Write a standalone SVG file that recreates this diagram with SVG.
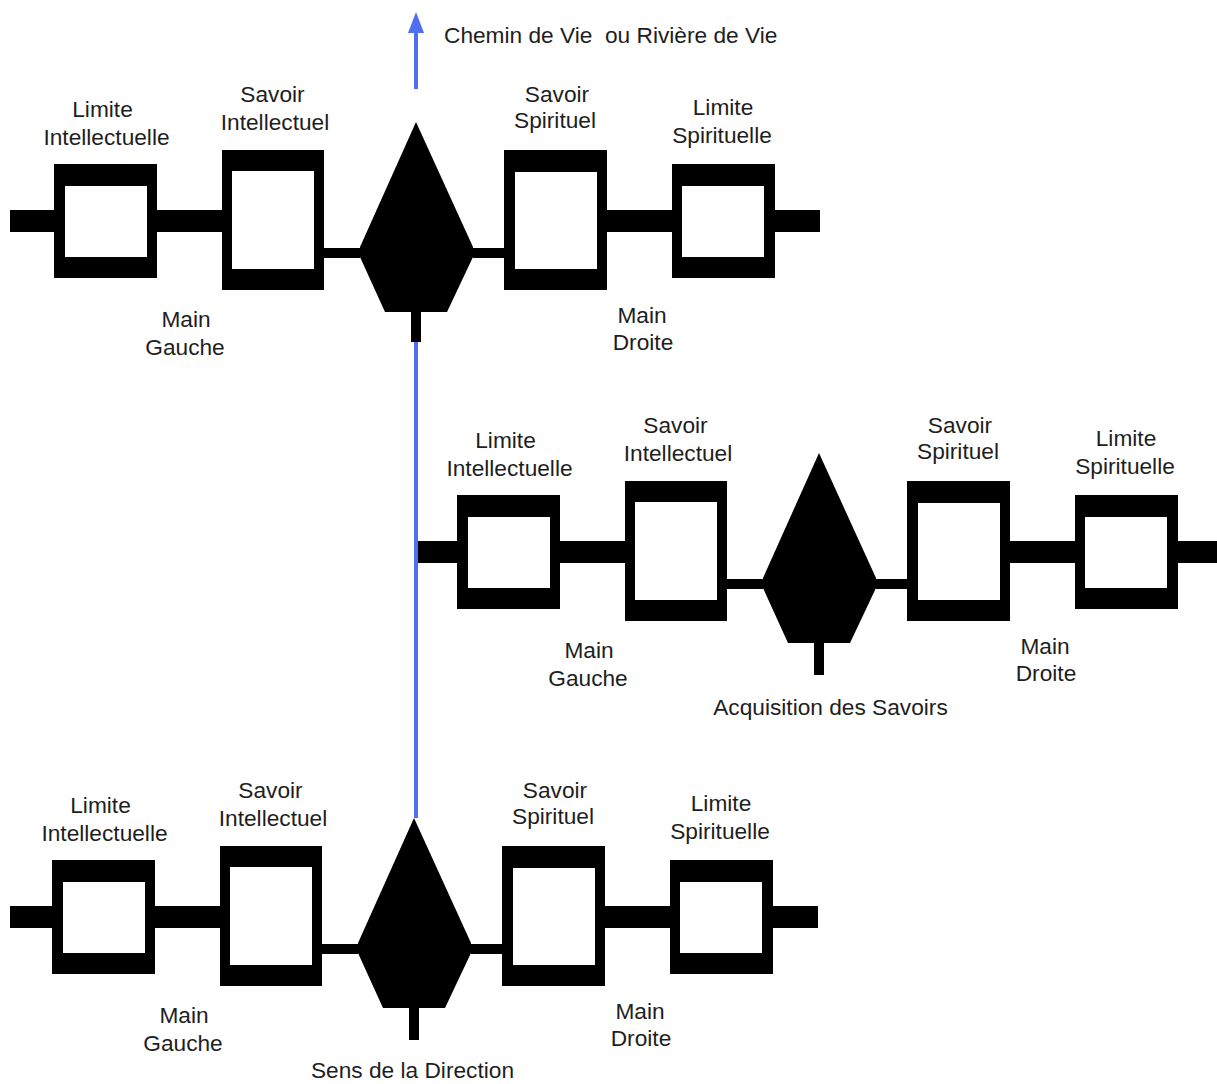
<svg xmlns="http://www.w3.org/2000/svg" width="1217" height="1084" viewBox="0 0 1217 1084">
<style>
.t{font-family:"Liberation Sans",Arial,sans-serif;font-size:22.7px;fill:#1e1e1e;text-anchor:middle}
.ts{font-family:"Liberation Sans",Arial,sans-serif;font-size:22.7px;fill:#1e1e1e}
.k{fill:#000}
.w{fill:#fff}
.flow{stroke:#4f6ef0;stroke-width:4;fill:none}
</style>
<defs>
<polygon id="dia" points="416,122 473,247 473,257 447,312 385,312 360,257 360,247"/>
</defs>
<rect width="1217" height="1084" fill="#fff"/>

<!-- connectors -->
<g id="connectors">
  <line class="flow" x1="416" y1="342" x2="416" y2="818"/>
  <line class="flow" x1="416" y1="89" x2="416" y2="28"/>
  <polygon points="416,12 424,33 408,33" fill="#4f6ef0"/>
  <g id="bars-top" class="k">
    <rect x="10" y="210" width="44" height="22"/>
    <rect x="157" y="210" width="65" height="22"/>
    <rect x="324" y="248" width="36" height="10"/>
    <rect x="473" y="248" width="31" height="10"/>
    <rect x="607" y="210" width="65" height="22"/>
    <rect x="775" y="210" width="45" height="22"/>
  </g>
  <g id="bars-mid" class="k" transform="translate(403,331)">
    <rect x="15" y="210" width="39" height="22"/>
    <rect x="157" y="210" width="65" height="22"/>
    <rect x="324" y="248" width="36" height="10"/>
    <rect x="473" y="248" width="31" height="10"/>
    <rect x="607" y="210" width="65" height="22"/>
    <rect x="775" y="210" width="45" height="22"/>
  </g>
  <g id="bars-bot" class="k" transform="translate(-2,696)">
    <rect x="12" y="210" width="42" height="22"/>
    <rect x="157" y="210" width="65" height="22"/>
    <rect x="324" y="248" width="36" height="10"/>
    <rect x="473" y="248" width="31" height="10"/>
    <rect x="607" y="210" width="65" height="22"/>
    <rect x="775" y="210" width="45" height="22"/>
  </g>
</g>

<text class="ts" x="444" y="43" xml:space="preserve">Chemin de Vie  ou Rivière de Vie</text>

<!-- top row -->
<g id="row-top">
  <g id="top-limite-intellectuelle">
    <rect class="k" x="54" y="164" width="103" height="114"/>
    <rect class="w" x="65" y="186" width="82" height="71"/>
    <text class="t" x="102.5" y="117">Limite</text>
    <text class="t" x="106.5" y="145">Intellectuelle</text>
  </g>
  <g id="top-savoir-intellectuel">
    <rect class="k" x="222" y="150" width="102" height="140"/>
    <rect class="w" x="232" y="171" width="82" height="98"/>
    <text class="t" x="272.5" y="102">Savoir</text>
    <text class="t" x="275" y="130">Intellectuel</text>
  </g>
  <g id="top-main-gauche">
    <text class="t" x="186" y="327">Main</text>
    <text class="t" x="185" y="355">Gauche</text>
  </g>
  <g id="top-centre">
    <use href="#dia" class="k"/>
    <rect class="k" x="411" y="310" width="10" height="32"/>
  </g>
  <g id="top-savoir-spirituel">
    <rect class="k" x="504" y="150" width="103" height="140"/>
    <rect class="w" x="515" y="172" width="82" height="97"/>
    <text class="t" x="557" y="102">Savoir</text>
    <text class="t" x="555" y="128">Spirituel</text>
  </g>
  <g id="top-limite-spirituelle">
    <rect class="k" x="672" y="164" width="103" height="114"/>
    <rect class="w" x="682" y="186" width="82" height="71"/>
    <text class="t" x="723" y="115">Limite</text>
    <text class="t" x="722" y="143">Spirituelle</text>
  </g>
  <g id="top-main-droite">
    <text class="t" x="642" y="323">Main</text>
    <text class="t" x="643" y="350">Droite</text>
  </g>
</g>

<!-- middle row -->
<g id="row-mid" transform="translate(403,331)">
  <g id="mid-limite-intellectuelle">
    <rect class="k" x="54" y="164" width="103" height="114"/>
    <rect class="w" x="65" y="186" width="82" height="71"/>
    <text class="t" x="102.5" y="117">Limite</text>
    <text class="t" x="106.5" y="145">Intellectuelle</text>
  </g>
  <g id="mid-savoir-intellectuel">
    <rect class="k" x="222" y="150" width="102" height="140"/>
    <rect class="w" x="232" y="171" width="82" height="98"/>
    <text class="t" x="272.5" y="102">Savoir</text>
    <text class="t" x="275" y="130">Intellectuel</text>
  </g>
  <g id="mid-main-gauche">
    <text class="t" x="186" y="327">Main</text>
    <text class="t" x="185" y="355">Gauche</text>
  </g>
  <g id="mid-centre">
    <use href="#dia" class="k"/>
    <rect class="k" x="411" y="310" width="10" height="34"/>
    <text class="t" x="427.5" y="384">Acquisition des Savoirs</text>
  </g>
  <g id="mid-savoir-spirituel">
    <rect class="k" x="504" y="150" width="103" height="140"/>
    <rect class="w" x="515" y="172" width="82" height="97"/>
    <text class="t" x="557" y="102">Savoir</text>
    <text class="t" x="555" y="128">Spirituel</text>
  </g>
  <g id="mid-limite-spirituelle">
    <rect class="k" x="672" y="164" width="103" height="114"/>
    <rect class="w" x="682" y="186" width="82" height="71"/>
    <text class="t" x="723" y="115">Limite</text>
    <text class="t" x="722" y="143">Spirituelle</text>
  </g>
  <g id="mid-main-droite">
    <text class="t" x="642" y="323">Main</text>
    <text class="t" x="643" y="350">Droite</text>
  </g>
</g>

<!-- bottom row -->
<g id="row-bot" transform="translate(-2,696)">
  <g id="bot-limite-intellectuelle">
    <rect class="k" x="54" y="164" width="103" height="114"/>
    <rect class="w" x="65" y="186" width="82" height="71"/>
    <text class="t" x="102.5" y="117">Limite</text>
    <text class="t" x="106.5" y="145">Intellectuelle</text>
  </g>
  <g id="bot-savoir-intellectuel">
    <rect class="k" x="222" y="150" width="102" height="140"/>
    <rect class="w" x="232" y="171" width="82" height="98"/>
    <text class="t" x="272.5" y="102">Savoir</text>
    <text class="t" x="275" y="130">Intellectuel</text>
  </g>
  <g id="bot-main-gauche">
    <text class="t" x="186" y="327">Main</text>
    <text class="t" x="185" y="355">Gauche</text>
  </g>
  <g id="bot-centre">
    <use href="#dia" class="k"/>
    <rect class="k" x="411" y="310" width="10" height="34"/>
    <text class="t" x="414.5" y="382">Sens de la Direction</text>
  </g>
  <g id="bot-savoir-spirituel">
    <rect class="k" x="504" y="150" width="103" height="140"/>
    <rect class="w" x="515" y="172" width="82" height="97"/>
    <text class="t" x="557" y="102">Savoir</text>
    <text class="t" x="555" y="128">Spirituel</text>
  </g>
  <g id="bot-limite-spirituelle">
    <rect class="k" x="672" y="164" width="103" height="114"/>
    <rect class="w" x="682" y="186" width="82" height="71"/>
    <text class="t" x="723" y="115">Limite</text>
    <text class="t" x="722" y="143">Spirituelle</text>
  </g>
  <g id="bot-main-droite">
    <text class="t" x="642" y="323">Main</text>
    <text class="t" x="643" y="350">Droite</text>
  </g>
</g>
</svg>
